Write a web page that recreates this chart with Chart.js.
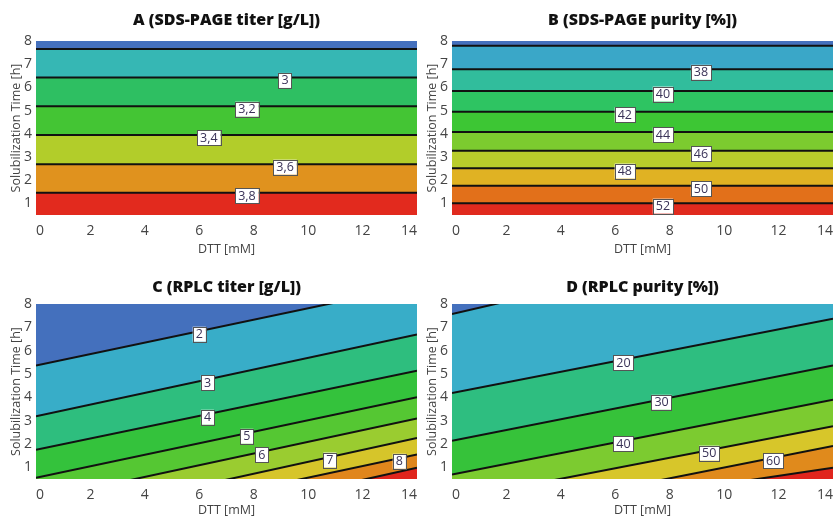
<!DOCTYPE html>
<html>
<head>
<meta charset="utf-8">
<script src="https://cdn.jsdelivr.net/npm/chart.js@4.4.1/dist/chart.umd.min.js"></script>
<style>
  body { margin: 0; background: #fff; }
  canvas { position: absolute; }
  #chartA { left: 0; top: 0; }
  #chartB { left: 416px; top: 0; }
  #chartC { left: 0; top: 262px; }
  #chartD { left: 416px; top: 262px; }
</style>
</head>
<body>
<canvas id="chartA" width="418" height="261"></canvas>
<canvas id="chartB" width="418" height="261"></canvas>
<canvas id="chartC" width="418" height="260"></canvas>
<canvas id="chartD" width="418" height="260"></canvas>
<script>
const dttTicks = [0, 2, 4, 6, 8, 10, 12, 14];
const timeTicks = [1, 2, 3, 4, 5, 6, 7, 8];

// contour lines listed bottom to top: time [h] at DTT = 0 and DTT = 14
const levelsA = [3.8, 3.6, 3.4, 3.2, 3.0, 2.8];
const startA = [1.46, 2.69, 3.95, 5.19, 6.43, 7.66];
const endA = [1.46, 2.69, 3.95, 5.19, 6.43, 7.66];
const labelAtA = [7.75, 9.15, 6.35, 7.75, 9.15, null];
const bandsA = ['#e22a1e', '#e0921e', '#b2cd2a', '#44c534', '#2ebf62', '#36b7b4', '#4470bd'];

const levelsB = [52, 50, 48, 46, 44, 42, 40, 38, 36];
const startB = [1.01, 1.76, 2.52, 3.27, 4.08, 4.95, 5.84, 6.78, 7.8];
const endB = [1.01, 1.76, 2.52, 3.27, 4.08, 4.95, 5.84, 6.78, 7.8];
const labelAtB = [7.75, 9.15, 6.35, 9.15, 7.75, 6.35, 7.75, 9.15, null];
const bandsB = ['#e02a1e', '#e2701a', '#e0b223', '#b9cd2b', '#7ccb2f', '#3dc634', '#2ec462', '#31bd9c', '#3aa7c8', '#4470bd'];

const levelsC = [9, 8, 7, 6, 5, 4, 3, 2];
const startC = [-2.63, -1.92, -1.32, -0.41, 0.55, 1.75, 3.19, 5.36];
const endC = [0.98, 1.55, 2.26, 3.09, 4.0, 5.14, 6.69, 8.8];
const labelAtC = [null, 13.35, 10.8, 8.3, 7.75, 6.3, 6.3, 6.0];
const bandsC = ['#e0251d', '#e0861c', '#d6c52a', '#9acc30', '#55c733', '#34c23c', '#2ebe7e', '#38adc8', '#4470bd'];

const levelsD = [70, 60, 50, 40, 30, 20, 10];
const startD = [-1.44, -1.31, -0.39, 0.69, 2.14, 4.19, 7.57];
const endD = [0.98, 1.91, 2.76, 3.9, 5.37, 7.37, 11.35];
const labelAtD = [null, 11.8, 9.45, 6.3, 7.7, 6.3, null];
const bandsD = ['#e0251d', '#e08a1c', '#d7c62a', '#7ccb30', '#36c23a', '#2ebe80', '#3aaec9', '#4470bd'];

const FONT = "'Open Sans', 'DejaVu Sans', sans-serif";
const commaDecimal = v => String(v).replace('.', ',');

function contourPanel(id, title, titleY, plotTop, xAxisH, levels, start, end, labelAt, bands, fmt) {
  const datasets = [{ data: [{ x: 0, y: -30 }, { x: 14, y: -30 }], borderWidth: 0, fill: false }];
  levels.forEach((lv, i) => {
    datasets.push({
      data: [{ x: 0, y: start[i] }, { x: 14, y: end[i] }],
      borderColor: '#111', borderWidth: 2, fill: '-1', backgroundColor: bands[i]
    });
  });
  datasets.push({
    data: [{ x: 0, y: 40 }, { x: 14, y: 40 }],
    borderWidth: 0, fill: '-1', backgroundColor: bands[levels.length]
  });

  // level labels sitting on their contour lines
  const levelLabels = {
    id: 'levelLabels',
    afterDatasetsDraw(chart) {
      const { ctx, scales: { x, y } } = chart;
      ctx.save();
      ctx.font = '12.5px ' + FONT;
      ctx.textAlign = 'center';
      ctx.textBaseline = 'middle';
      levels.forEach((lv, i) => {
        if (labelAt[i] == null) return;
        const t = start[i] + (end[i] - start[i]) * labelAt[i] / 14;
        const px = x.getPixelForValue(labelAt[i]);
        const py = y.getPixelForValue(t) + 3;
        const txt = fmt(lv);
        const w = ctx.measureText(txt).width + 6;
        const h = 15;
        ctx.fillStyle = '#fff';
        ctx.fillRect(px - w / 2, py - h / 2, w, h);
        ctx.strokeStyle = '#555';
        ctx.lineWidth = 1;
        ctx.strokeRect(Math.round(px - w / 2) + 0.5, Math.round(py - h / 2) + 0.5, Math.round(w), h);
        ctx.fillStyle = '#3a3358';
        ctx.fillText(txt, px, py + 0.5);
      });
      ctx.restore();
    }
  };

  const panelTitle = {
    id: 'panelTitle',
    afterDraw(chart) {
      const { ctx, chartArea } = chart;
      ctx.save();
      ctx.font = '800 16px ' + FONT;
      ctx.fillStyle = '#111';
      ctx.textAlign = 'center';
      ctx.textBaseline = 'middle';
      ctx.fillText(title, (chartArea.left + chartArea.right) / 2, titleY);
      ctx.restore();
    }
  };

  return new Chart(document.getElementById(id), {
    type: 'line',
    data: { datasets },
    options: {
      responsive: false,
      animation: false,
      devicePixelRatio: 1,
      layout: { padding: { top: plotTop, right: 1, left: 0, bottom: 0 } },
      elements: { point: { radius: 0 }, line: { tension: 0 } },
      plugins: {
        legend: { display: false },
        tooltip: { enabled: false },
        filler: { drawTime: 'beforeDatasetsDraw' }
      },
      scales: {
        x: {
          type: 'linear', min: 0, max: 14,
          afterFit: s => { s.height = xAxisH; s.paddingLeft = 0; s.paddingRight = 0; },
          afterBuildTicks: s => { s.ticks = dttTicks.map(v => ({ value: v })); },
          grid: { display: false, drawTicks: false },
          border: { display: false },
          ticks: { color: '#444', font: { family: FONT, size: 14 }, padding: 8, maxRotation: 0, align: 'inner' },
          title: { display: true, text: 'DTT [mM]', color: '#444', font: { family: FONT, size: 12.5 }, padding: { top: 0, bottom: 4 } }
        },
        y: {
          type: 'linear', min: 0.5, max: 8,
          afterFit: s => { s.width = 36; },
          afterBuildTicks: s => { s.ticks = timeTicks.map(v => ({ value: v })); },
          grid: { display: false, drawTicks: false },
          border: { display: false },
          ticks: { color: '#444', font: { family: FONT, size: 14 }, padding: 4 },
          title: { display: true, text: 'Solubilization Time [h]', color: '#444', font: { family: FONT, size: 12.5 }, padding: { top: 9, bottom: 0 } }
        }
      }
    },
    plugins: [levelLabels, panelTitle]
  });
}

contourPanel('chartA', 'A (SDS-PAGE titer [g/L])', 20, 41, 46, levelsA, startA, endA, labelAtA, bandsA, commaDecimal);
contourPanel('chartB', 'B (SDS-PAGE purity [%])', 20, 41, 46, levelsB, startB, endB, labelAtB, bandsB, String);
contourPanel('chartC', 'C (RPLC titer [g/L])', 25, 42, 43, levelsC, startC, endC, labelAtC, bandsC, String);
contourPanel('chartD', 'D (RPLC purity [%])', 25, 42, 43, levelsD, startD, endD, labelAtD, bandsD, String);
</script>
</body>
</html>
